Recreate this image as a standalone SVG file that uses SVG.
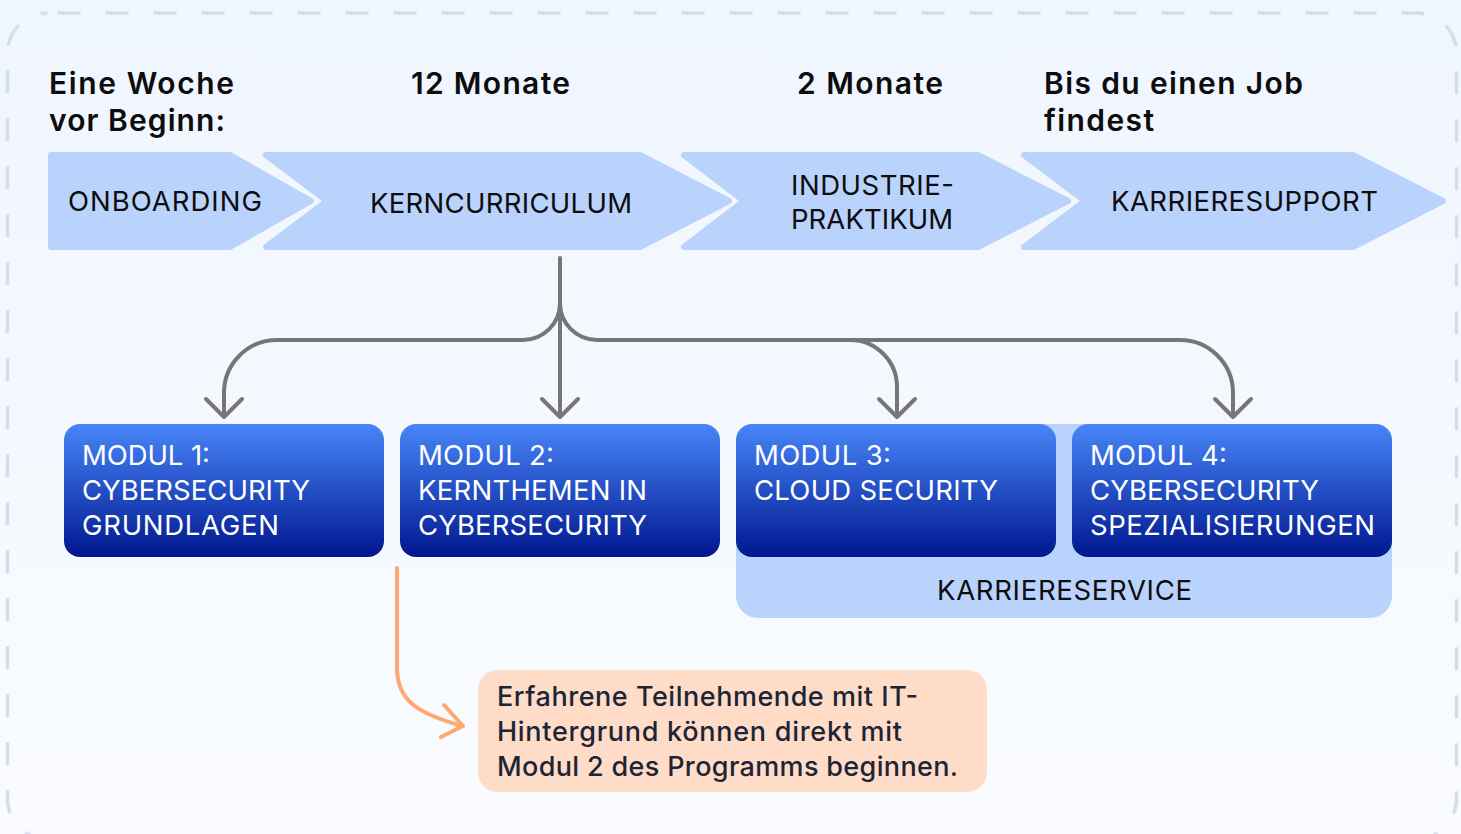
<svg xmlns="http://www.w3.org/2000/svg" width="1461" height="834" viewBox="0 0 1461 834">
<defs>
<linearGradient id="bg" x1="0" y1="0" x2="0" y2="1">
<stop offset="0" stop-color="#f0f6fe"/>
<stop offset="1" stop-color="#f9fbff"/>
</linearGradient>
<linearGradient id="mod" x1="0" y1="0" x2="0" y2="1">
<stop offset="0" stop-color="#4886f9"/>
<stop offset="1" stop-color="#00178f"/>
</linearGradient>
</defs>
<style>
.chev{fill:#bad3fd;stroke:#bad3fd;stroke-width:6;stroke-linejoin:round}
.hdr{font-family:Inter,"DejaVu Sans",sans-serif;font-weight:600;font-size:30px;fill:#0d0d0d}
.ct{font-family:Inter,"DejaVu Sans",sans-serif;font-size:27.5px;fill:#0d0d0d}
.mbox{fill:url(#mod)}
.mt{font-family:Inter,"DejaVu Sans",sans-serif;font-size:27.5px;fill:#ffffff}
.conn{fill:none;stroke:#767676;stroke-width:4;stroke-linecap:round;stroke-linejoin:round}
.oconn{fill:none;stroke:#ffa873;stroke-width:4;stroke-linecap:round;stroke-linejoin:round}
.nt{font-family:Inter,"DejaVu Sans",sans-serif;font-weight:500;font-size:27px;fill:#1c2536}
</style>
<rect x="0" y="0" width="1461" height="834" fill="url(#bg)"/>
<rect x="7.5" y="13" width="1449" height="826" rx="40" fill="none" stroke="#d4deeb" stroke-width="3.5" stroke-dasharray="23 25" stroke-dashoffset="-10"/>

<g id="headers">
<text class="hdr" x="49" y="94" textLength="185">Eine Woche</text>
<text class="hdr" x="49" y="131" textLength="176">vor Beginn:</text>
<text class="hdr" x="411" y="94" textLength="159">12 Monate</text>
<text class="hdr" x="797" y="94" textLength="146">2 Monate</text>
<text class="hdr" x="1044" y="94" textLength="259">Bis du einen Job</text>
<text class="hdr" x="1044" y="131" textLength="110">findest</text>
</g>

<g id="onboarding">
<polygon class="chev" points="51,155 230,155 311,201 230,247 51,247"/>
<text class="ct" x="68" y="211" textLength="194">ONBOARDING</text>
</g>
<g id="kerncurriculum">
<polygon class="chev" points="266,155 640,155 729,201 640,247 266,247 327,201"/>
<text class="ct" x="370" y="213" textLength="262">KERNCURRICULUM</text>
</g>
<g id="industriepraktikum">
<polygon class="chev" points="684,155 978,155 1068,201 978,247 684,247 744,201"/>
<text class="ct" x="791" y="195" textLength="163">INDUSTRIE-</text>
<text class="ct" x="791" y="229" textLength="162">PRAKTIKUM</text>
</g>
<g id="karrieresupport">
<polygon class="chev" points="1024,155 1353,155 1443,201 1353,247 1024,247 1085,201"/>
<text class="ct" x="1111" y="211" textLength="267">KARRIERESUPPORT</text>
</g>

<g id="karriereservice">
<rect x="736" y="424" width="656" height="194" rx="22" fill="#bad3fd"/>
<text class="ct" x="937" y="600" textLength="255">KARRIERESERVICE</text>
</g>

<g id="modul1">
<rect class="mbox" x="64" y="424" width="320" height="133" rx="16"/>
<text class="mt" x="82" y="465" textLength="128">MODUL 1:</text>
<text class="mt" x="82" y="500" textLength="228">CYBERSECURITY</text>
<text class="mt" x="82" y="535" textLength="197">GRUNDLAGEN</text>
</g>
<g id="modul2">
<rect class="mbox" x="400" y="424" width="320" height="133" rx="16"/>
<text class="mt" x="418" y="465" textLength="136">MODUL 2:</text>
<text class="mt" x="418" y="500" textLength="229">KERNTHEMEN IN</text>
<text class="mt" x="418" y="535" textLength="229">CYBERSECURITY</text>
</g>
<g id="modul3">
<rect class="mbox" x="736" y="424" width="320" height="133" rx="16"/>
<text class="mt" x="754" y="465" textLength="137">MODUL 3:</text>
<text class="mt" x="754" y="500" textLength="244">CLOUD SECURITY</text>
</g>
<g id="modul4">
<rect class="mbox" x="1072" y="424" width="320" height="133" rx="16"/>
<text class="mt" x="1090" y="465" textLength="137">MODUL 4:</text>
<text class="mt" x="1090" y="500" textLength="229">CYBERSECURITY</text>
<text class="mt" x="1090" y="535" textLength="285">SPEZIALISIERUNGEN</text>
</g>

<g id="hinweis">
<rect x="478" y="670" width="509" height="122" rx="20" fill="#ffdcc8"/>
<text class="nt" x="497" y="706" textLength="421">Erfahrene Teilnehmende mit IT-</text>
<text class="nt" x="497" y="741" textLength="405">Hintergrund können direkt mit</text>
<text class="nt" x="497" y="776" textLength="461">Modul 2 des Programms beginnen.</text>
</g>

<g id="connectors">
<path class="conn" d="M560,258 V416"/>
<path class="conn" d="M542,399 L560,417 L578,399"/>
<path class="conn" d="M560,303 A37,37 0 0 1 523,340 H277 A53,53 0 0 0 224,393 V416"/>
<path class="conn" d="M206,399 L224,417 L242,399"/>
<path class="conn" d="M560,303 A37,37 0 0 0 597,340 H1180 A53,53 0 0 1 1233,393 V416"/>
<path class="conn" d="M1215,399 L1233,417 L1251,399"/>
<path class="conn" d="M850,340 A47,47 0 0 1 897,387 V416"/>
<path class="conn" d="M879,399 L897,417 L915,399"/>
<path class="oconn" d="M397,568 V668 C397,702 420,714 462,726"/>
<path class="oconn" d="M444,705 L463,726 L441,737"/>
</g>
</svg>
